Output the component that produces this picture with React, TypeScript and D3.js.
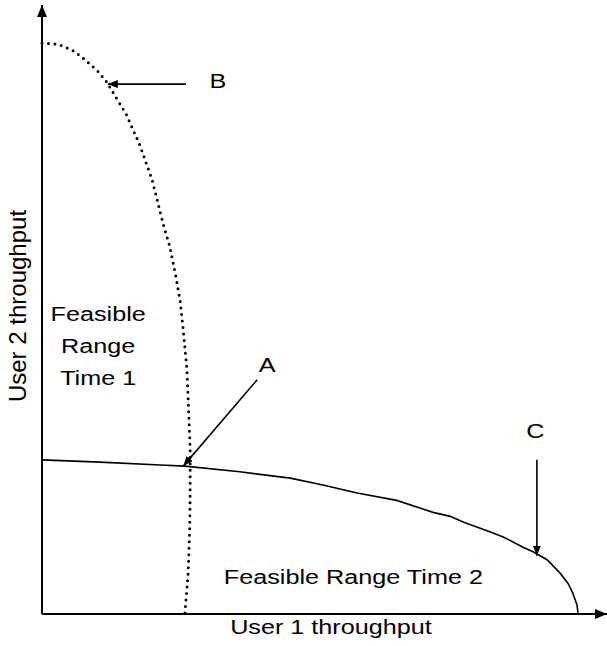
import * as d3 from 'd3';

// Time 1 boundary (dotted), in throughput units
const time1U1 = [0, 0.3, 0.56, 0.75, 1.04, 1.2, 1.4, 1.58, 1.83, 2.06, 2.26, 2.39, 2.49, 2.58, 2.64, 2.71, 2.74, 2.77, 2.77, 2.76, 2.73, 2.67];
const time1U2 = [10.0, 9.98, 9.88, 9.75, 9.51, 9.33, 9.02, 8.74, 8.21, 7.6, 6.85, 6.43, 5.97, 5.5, 4.97, 4.27, 3.57, 2.87, 2.17, 1.47, 0.68, 0];

// Time 2 boundary (solid)
const time2U1 = [0, 1.08, 2.21, 2.67, 3.7, 4.64, 5.25, 5.89, 6.63, 7.31, 7.63, 7.87, 8.37, 8.62, 8.99, 9.18, 9.44, 9.68, 9.83, 9.92, 10.0, 10.02];
const time2U2 = [2.7, 2.66, 2.61, 2.59, 2.49, 2.38, 2.26, 2.12, 1.99, 1.78, 1.71, 1.61, 1.44, 1.35, 1.17, 1.09, 0.95, 0.72, 0.54, 0.37, 0.16, 0];

// annotation arrows: label, label pos, arrow from -> to
const annLabels = ['A', 'B', 'C'];
const annLabelPos = [[4.21, 4.24], [3.29, 9.21], [9.22, 3.08]];
const annFrom = [[4.02, 4.1], [2.69, 9.28], [9.25, 2.7]];
const annTo = [[2.64, 2.59], [1.23, 9.28], [9.25, 1.02]];

const regionLines = ['Feasible', 'Range', 'Time 1'];
const region2Label = 'Feasible Range Time 2';
const xLabel = 'User 1 throughput';
const yLabel = 'User 2 throughput';

const W = 607;
const H = 646;
const x0 = 42, y0 = 614;

const App = () => {
  const x = d3.scaleLinear().domain([0, 10]).range([x0, 577]);
  const y = d3.scaleLinear().domain([0, 10]).range([y0, 43]);

  const line = d3.line<[number, number]>().x(d => x(d[0])).y(d => y(d[1]));
  const t1 = time1U1.map((v, i) => [v, time1U2[i]] as [number, number]);
  const t2 = time2U1.map((v, i) => [v, time2U2[i]] as [number, number]);

  const font = 'Arial, "Liberation Sans", sans-serif';
  const sx = 1.2;
  const stretched = (px: number, py: number, s: string, key?: any) => (
    <text key={key} transform={`translate(${px},${py}) scale(${sx},1)`} textAnchor="middle" fontSize={21} fontFamily={font} fill="#000">{s}</text>
  );

  return (
    <svg width={W} height={H} style={{ position: 'absolute', left: 0, top: 0, background: '#fff' }}>
      <defs>
        <marker id="ah" viewBox="0 0 10 8" refX="10" refY="4" markerWidth="10" markerHeight="8" markerUnits="userSpaceOnUse" orient="auto">
          <path d="M0,0 L10,4 L0,8 Z" fill="#000" />
        </marker>
        <marker id="axh" viewBox="0 0 12 10" refX="12" refY="5" markerWidth="12" markerHeight="10" markerUnits="userSpaceOnUse" orient="auto">
          <path d="M0,0 L12,5 L0,10 Z" fill="#000" />
        </marker>
      </defs>
      <rect width={W} height={H} fill="#fff" />

      {/* axes */}
      <line x1={x0} y1={y0} x2={x0} y2={5} stroke="#000" strokeWidth={2} markerEnd="url(#axh)" />
      <line x1={x0} y1={y0} x2={607} y2={y0} stroke="#000" strokeWidth={2} markerEnd="url(#axh)" />

      {/* boundaries */}
      <path d={line(t1) || ''} fill="none" stroke="#000" strokeWidth={3} strokeLinecap="round" strokeDasharray="0 6.5" />
      <path d={line(t2) || ''} fill="none" stroke="#000" strokeWidth={1.6} />

      {/* annotations */}
      {annLabels.map((s, i) => (
        <g key={s}>
          <line x1={x(annFrom[i][0])} y1={y(annFrom[i][1])} x2={x(annTo[i][0])} y2={y(annTo[i][1])} stroke="#000" strokeWidth={1.6} markerEnd="url(#ah)" />
          {stretched(x(annLabelPos[i][0]), y(annLabelPos[i][1]), s)}
        </g>
      ))}

      {regionLines.map((s, i) => stretched(x(1.05), 321 + i * 32, s, i))}
      {stretched(x(5.82), y(0.53), region2Label)}
      {stretched(331, 634, xLabel)}
      <text transform={`translate(26,306) rotate(-90)`} textAnchor="middle" fontSize={24} fontFamily={font} fill="#000">{yLabel}</text>
    </svg>
  );
};

export default App;
